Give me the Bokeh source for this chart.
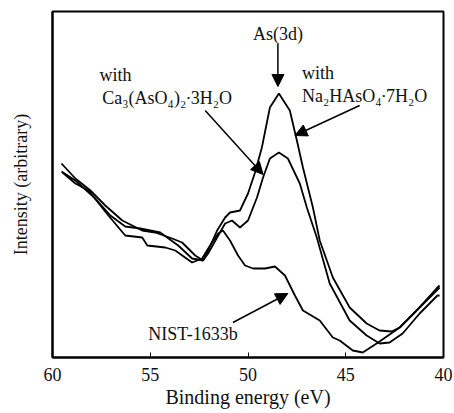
from bokeh.plotting import figure
from bokeh.models import Range1d, Arrow, NormalHead, FixedTicker, Label
from bokeh.embed import file_html
from bokeh.resources import INLINE

# Binding energy (eV) and intensity (arbitrary)
na_x = [59.54, 58.83, 58.06, 57.30, 56.43, 55.41, 54.74, 53.88, 53.37, 52.70, 52.30, 52.04,
        51.58, 51.17, 50.92, 50.41, 50.00, 49.64, 49.29, 48.88, 48.42, 47.86, 47.50, 47.19,
        46.68, 46.33, 45.66, 44.80, 43.93, 43.27, 42.65, 42.24, 41.38, 40.36, 40.20]
na_y = [196, 181, 169, 154, 139, 129, 127, 121, 117, 104, 99, 109,
        129, 142, 147, 149, 166, 187, 212, 252, 266, 249, 219, 192,
        152, 119, 82, 52, 36, 29, 28, 32, 49, 71, 74]

ca_x = [59.54, 58.83, 57.81, 57.04, 56.28, 55.51, 54.49, 53.57, 52.86, 52.30, 52.04, 51.58,
        51.17, 50.82, 50.41, 50.00, 49.54, 49.23, 48.88, 48.42, 47.96, 47.35, 46.99, 46.48,
        45.82, 44.80, 43.93, 43.27, 42.76, 42.09, 41.22, 40.31, 40.20]
ca_y = [188, 179, 161, 144, 133, 131, 127, 114, 101, 99, 106, 122,
        136, 139, 132, 139, 162, 182, 201, 207, 201, 176, 152, 122,
        76, 39, 24, 16, 17, 26, 46, 64, 64]

nist_x = [59.49, 58.83, 58.16, 57.14, 56.28, 55.41, 55.15, 54.23, 53.72, 52.86, 52.35, 51.94,
          51.53, 51.28, 50.92, 50.51, 50.15, 49.74, 49.13, 48.62, 48.11, 47.60, 47.19, 46.33,
          45.66, 45.31, 44.64, 44.13, 43.42, 42.24, 41.22, 40.20]
nist_y = [187, 176, 169, 144, 124, 122, 114, 112, 109, 97, 101, 114,
          126, 129, 119, 104, 94, 91, 91, 93, 84, 64, 49, 39,
          22, 19, 9, 7, 16, 32, 52, 72]

x_ticks = [60, 55, 50, 45, 40]

FONT = "Liberation Serif"
INK = "#111111"

p = figure(width=454, height=413, output_backend="svg", toolbar_location=None,
           x_range=Range1d(60, 40), y_range=Range1d(2, 348),
           min_border_left=52, min_border_right=11, min_border_top=11, min_border_bottom=56)
p.grid.visible = False
p.outline_line_color = "black"
p.outline_line_width = 2
p.background_fill_color = "white"
p.border_fill_color = "white"

xa = p.xaxis[0]
xa.ticker = FixedTicker(ticks=x_ticks)
xa.major_tick_in = 5
xa.major_tick_out = 0
xa.minor_tick_in = 0
xa.minor_tick_out = 0
xa.axis_line_width = 2
xa.major_label_text_font = FONT
xa.major_label_text_font_size = "18px"
xa.major_label_text_color = INK
xa.major_label_standoff = 10
xa.axis_label = "Binding energy (eV)"
xa.axis_label_text_font = FONT
xa.axis_label_text_font_size = "20px"
xa.axis_label_text_font_style = "normal"
xa.axis_label_text_color = INK
xa.axis_label_standoff = 2

ya = p.yaxis[0]
ya.ticker = FixedTicker(ticks=[])
ya.major_tick_in = 0
ya.major_tick_out = 0
ya.minor_tick_in = 0
ya.minor_tick_out = 0
ya.axis_line_width = 2
ya.axis_label = "Intensity (arbitrary)"
ya.axis_label_text_font = FONT
ya.axis_label_text_font_size = "18px"
ya.axis_label_text_font_style = "normal"
ya.axis_label_text_color = INK
ya.axis_label_standoff = 22

for xs, ys in [(na_x, na_y), (ca_x, ca_y), (nist_x, nist_y)]:
    p.line(xs, ys, line_color="black", line_width=1.8)

def head():
    return NormalHead(size=12, fill_color="black", line_color="black")

arrows = [
    (48.47, 316, 48.47, 273),
    (52.19, 249, 49.23, 185),
    (44.29, 254, 47.60, 224),
    (50.77, 37, 47.96, 66),
]
for xs_, ys_, xe, ye in arrows:
    p.add_layout(Arrow(end=head(), x_start=xs_, y_start=ys_, x_end=xe, y_end=ye,
                       line_color="black", line_width=1.5))

labels = [
    (48.47, 326, "As(3d)", "center"),
    (57.60, 285, "with", "left"),
    (57.45, 262, "Ca\u2083(AsO\u2084)\u2082\u22193H\u2082O", "left"),
    (47.24, 287, "with", "left"),
    (47.24, 264, "Na\u2082HAsO\u2084\u22197H\u2082O", "left"),
    (55.10, 26, "NIST-1633b", "left"),
]
for lx, ly, t, al in labels:
    p.add_layout(Label(x=lx, y=ly, text=t, text_align=al, text_baseline="middle",
                       text_font=FONT, text_font_size="18px", text_color=INK))

open("out.html", "w").write(file_html(p, INLINE))
